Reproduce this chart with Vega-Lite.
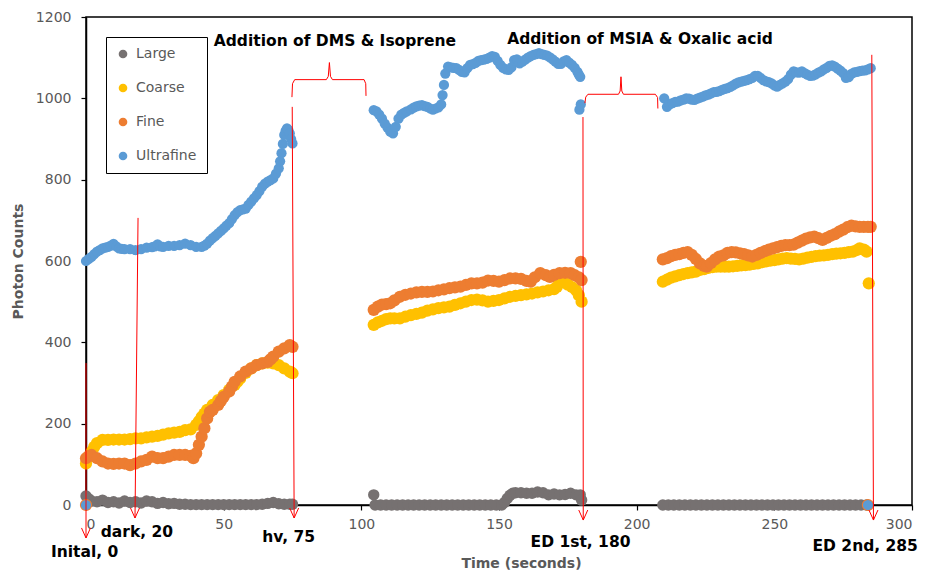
{
  "$schema": "https://vega.github.io/schema/vega-lite/v6.json",
  "width": 826,
  "height": 488,
  "autosize": {"type": "none"},
  "padding": {"left": 86, "top": 17, "right": 17, "bottom": 68},
  "background": "white",
  "config": {
    "view": {"stroke": "black", "strokeWidth": 1.5},
    "font": "DejaVu Sans",
    "axis": {
      "grid": false,
      "domainColor": "black",
      "domainWidth": 1.5,
      "tickColor": "black",
      "tickWidth": 1.2,
      "tickSize": 5,
      "labelFont": "DejaVu Sans",
      "labelFontSize": 14,
      "labelColor": "#595959",
      "titleFont": "DejaVu Sans",
      "titleFontSize": 14,
      "titleColor": "#595959",
      "titleFontWeight": "bold"
    }
  },
  "datasets": {
    "large": [
      {"t":0,"v":22},{"t":1,"v":15},{"t":2,"v":10},{"t":4,"v":8},{"t":6,"v":12},{"t":8,"v":6},{"t":10,"v":8},{"t":12,"v":5},{"t":14,"v":10},{"t":16,"v":6},{"t":18,"v":8},{"t":20,"v":5},{"t":22,"v":10},{"t":24,"v":8},{"t":26,"v":4},{"t":28,"v":6},{"t":30,"v":3},{"t":32,"v":4},{"t":34,"v":2},{"t":36,"v":2},{"t":38,"v":1},{"t":40,"v":1},{"t":42,"v":1},{"t":44,"v":1},{"t":46,"v":1},{"t":48,"v":1},{"t":50,"v":1},{"t":52,"v":1},{"t":54,"v":1},{"t":56,"v":1},{"t":58,"v":1},{"t":60,"v":1},{"t":62,"v":1},{"t":64,"v":2},{"t":66,"v":4},{"t":68,"v":6},{"t":70,"v":3},{"t":72,"v":2},{"t":74,"v":2},{"t":75,"v":2},
      {"t":104.5,"v":25},{"t":105,"v":0},{"t":107,"v":0},{"t":109,"v":0},{"t":111,"v":0},{"t":113,"v":0},{"t":115,"v":0},{"t":117,"v":0},{"t":119,"v":0},{"t":121,"v":0},{"t":123,"v":0},{"t":125,"v":0},{"t":127,"v":0},{"t":129,"v":0},{"t":131,"v":0},{"t":133,"v":0},{"t":135,"v":0},{"t":137,"v":0},{"t":139,"v":0},{"t":141,"v":0},{"t":143,"v":0},{"t":145,"v":0},{"t":147,"v":0},{"t":149,"v":0},{"t":151,"v":0},{"t":152,"v":6},{"t":153,"v":16},{"t":154,"v":24},{"t":155,"v":29},{"t":156,"v":30},{"t":158,"v":30},{"t":160,"v":29},{"t":162,"v":29},{"t":164,"v":32},{"t":166,"v":30},{"t":168,"v":25},{"t":170,"v":27},{"t":172,"v":25},{"t":174,"v":26},{"t":176,"v":29},{"t":178,"v":25},{"t":179.5,"v":25},{"t":180,"v":12},
      {"t":209.5,"v":0},{"t":211.5,"v":0},{"t":213.5,"v":0},{"t":215.5,"v":0},{"t":217.5,"v":0},{"t":219.5,"v":0},{"t":221.5,"v":0},{"t":223.5,"v":0},{"t":225.5,"v":0},{"t":227.5,"v":0},{"t":229.5,"v":0},{"t":231.5,"v":0},{"t":233.5,"v":0},{"t":235.5,"v":0},{"t":237.5,"v":0},{"t":239.5,"v":0},{"t":241.5,"v":0},{"t":243.5,"v":0},{"t":245.5,"v":0},{"t":247.5,"v":0},{"t":249.5,"v":0},{"t":251.5,"v":0},{"t":253.5,"v":0},{"t":255.5,"v":0},{"t":257.5,"v":0},{"t":259.5,"v":0},{"t":261.5,"v":0},{"t":263.5,"v":0},{"t":265.5,"v":0},{"t":267.5,"v":0},{"t":269.5,"v":0},{"t":271.5,"v":0},{"t":273.5,"v":0},{"t":275.5,"v":0},{"t":277.5,"v":0},{"t":279.5,"v":0},{"t":281.5,"v":0},{"t":283.5,"v":0}
    ],
    "coarse": [
      {"t":0,"v":102},{"t":1,"v":118},{"t":2,"v":131},{"t":3,"v":143},{"t":4,"v":152},{"t":6,"v":160},{"t":8,"v":160},{"t":10,"v":161},{"t":12,"v":161},{"t":14,"v":161},{"t":16,"v":162},{"t":18,"v":164},{"t":20,"v":164},{"t":22,"v":166},{"t":24,"v":168},{"t":26,"v":170},{"t":28,"v":173},{"t":30,"v":176},{"t":32,"v":178},{"t":34,"v":180},{"t":36,"v":184},{"t":38,"v":186},{"t":40,"v":197},{"t":41,"v":206},{"t":42,"v":216},{"t":43,"v":225},{"t":44,"v":234},{"t":46,"v":246},{"t":48,"v":258},{"t":50,"v":270},{"t":52,"v":283},{"t":54,"v":295},{"t":55,"v":303},{"t":56,"v":311},{"t":58,"v":325},{"t":60,"v":336},{"t":62,"v":344},{"t":64,"v":348},{"t":66,"v":350},{"t":68,"v":348},{"t":70,"v":344},{"t":72,"v":336},{"t":74,"v":328},{"t":75,"v":324},
      {"t":104.5,"v":443},{"t":106,"v":449},{"t":107.5,"v":453},{"t":109,"v":457},{"t":110.5,"v":459},{"t":112,"v":459},{"t":114,"v":459},{"t":116,"v":463},{"t":118,"v":467},{"t":120,"v":470},{"t":122,"v":473},{"t":124,"v":478},{"t":126,"v":481},{"t":128,"v":484},{"t":130,"v":486},{"t":132,"v":488},{"t":134,"v":492},{"t":136,"v":496},{"t":138,"v":500},{"t":140,"v":504},{"t":142,"v":505},{"t":144,"v":503},{"t":146,"v":500},{"t":148,"v":502},{"t":150,"v":504},{"t":152,"v":508},{"t":154,"v":512},{"t":156,"v":514},{"t":158,"v":516},{"t":160,"v":518},{"t":162,"v":520},{"t":164,"v":523},{"t":166,"v":525},{"t":168,"v":528},{"t":170,"v":531},{"t":171,"v":536},{"t":172,"v":549},{"t":173.5,"v":548},{"t":175,"v":542},{"t":176.5,"v":536},{"t":178,"v":528},{"t":179,"v":516},{"t":180,"v":500},
      {"t":209.5,"v":549},{"t":211,"v":554},{"t":212.5,"v":559},{"t":214,"v":562},{"t":215.5,"v":565},{"t":217,"v":568},{"t":218.5,"v":570},{"t":220,"v":572},{"t":221.5,"v":574},{"t":223,"v":578},{"t":224.5,"v":580},{"t":226,"v":583},{"t":227.5,"v":585},{"t":229,"v":586},{"t":230.5,"v":586},{"t":232,"v":586},{"t":233.5,"v":586},{"t":235,"v":587},{"t":236.5,"v":588},{"t":238,"v":589},{"t":239.5,"v":590},{"t":241,"v":591},{"t":242.5,"v":593},{"t":244,"v":594},{"t":245.5,"v":597},{"t":247,"v":599},{"t":248.5,"v":601},{"t":250,"v":602},{"t":251.5,"v":604},{"t":253,"v":606},{"t":254.5,"v":607},{"t":256,"v":606},{"t":257.5,"v":605},{"t":259,"v":604},{"t":260.5,"v":606},{"t":262,"v":608},{"t":263.5,"v":610},{"t":265,"v":612},{"t":266.5,"v":613},{"t":268,"v":614},{"t":269.5,"v":615},{"t":271,"v":617},{"t":272.5,"v":618},{"t":274,"v":619},{"t":275.5,"v":620},{"t":277,"v":622},{"t":278.5,"v":623},{"t":280,"v":627},{"t":281,"v":631},{"t":282.5,"v":628},{"t":283.5,"v":623},{"t":284.3,"v":545}
    ],
    "fine": [
      {"t":0,"v":0},
      {"t":0,"v":115},{"t":1,"v":120},{"t":2,"v":123},{"t":4,"v":115},{"t":6,"v":107},{"t":8,"v":102},{"t":10,"v":101},{"t":12,"v":102},{"t":14,"v":102},{"t":16,"v":98},{"t":18,"v":102},{"t":20,"v":107},{"t":22,"v":111},{"t":24,"v":119},{"t":26,"v":115},{"t":28,"v":115},{"t":30,"v":119},{"t":32,"v":123},{"t":34,"v":123},{"t":36,"v":123},{"t":38,"v":121},{"t":39,"v":115},{"t":40,"v":127},{"t":41,"v":148},{"t":42,"v":168},{"t":43,"v":189},{"t":44,"v":213},{"t":45,"v":229},{"t":46,"v":234},{"t":48,"v":246},{"t":49,"v":256},{"t":50,"v":266},{"t":52,"v":279},{"t":53,"v":291},{"t":54,"v":303},{"t":56,"v":316},{"t":58,"v":328},{"t":60,"v":336},{"t":62,"v":344},{"t":64,"v":348},{"t":66,"v":352},{"t":67,"v":358},{"t":68,"v":365},{"t":70,"v":377},{"t":72,"v":385},{"t":74,"v":393},{"t":75,"v":389},
      {"t":104.5,"v":480},{"t":106,"v":488},{"t":107.5,"v":493},{"t":109,"v":494},{"t":110.5,"v":496},{"t":112,"v":503},{"t":114,"v":512},{"t":116,"v":517},{"t":118,"v":520},{"t":120,"v":523},{"t":122,"v":524},{"t":124,"v":524},{"t":126,"v":525},{"t":128,"v":528},{"t":130,"v":530},{"t":132,"v":533},{"t":134,"v":535},{"t":136,"v":537},{"t":138,"v":541},{"t":140,"v":545},{"t":142,"v":545},{"t":144,"v":547},{"t":146,"v":552},{"t":148,"v":551},{"t":150,"v":549},{"t":152,"v":553},{"t":154,"v":557},{"t":156,"v":557},{"t":158,"v":556},{"t":160,"v":551},{"t":161.5,"v":549},{"t":163,"v":560},{"t":165,"v":570},{"t":167,"v":565},{"t":168.5,"v":561},{"t":170,"v":566},{"t":172,"v":570},{"t":174,"v":571},{"t":176,"v":570},{"t":177.5,"v":565},{"t":179,"v":560},{"t":180,"v":553},{"t":179.7,"v":598},
      {"t":209.5,"v":604},{"t":211,"v":607},{"t":212.5,"v":612},{"t":214,"v":615},{"t":215.5,"v":617},{"t":217,"v":620},{"t":218.5,"v":622},{"t":220,"v":615},{"t":221.5,"v":605},{"t":223,"v":594},{"t":224.5,"v":588},{"t":225.5,"v":586},{"t":227,"v":595},{"t":228.5,"v":604},{"t":230,"v":611},{"t":231.5,"v":614},{"t":233,"v":620},{"t":234.5,"v":622},{"t":236,"v":621},{"t":237.5,"v":619},{"t":239,"v":617},{"t":240.5,"v":614},{"t":242,"v":611},{"t":243.5,"v":615},{"t":245,"v":620},{"t":246.5,"v":624},{"t":248,"v":628},{"t":249.5,"v":631},{"t":251,"v":634},{"t":252.5,"v":637},{"t":254,"v":639},{"t":255.5,"v":639},{"t":257,"v":640},{"t":258.5,"v":645},{"t":260,"v":650},{"t":261.5,"v":655},{"t":263,"v":658},{"t":264.5,"v":660},{"t":266,"v":656},{"t":267.5,"v":652},{"t":269,"v":657},{"t":270.5,"v":662},{"t":272,"v":666},{"t":273.5,"v":672},{"t":275,"v":677},{"t":276.5,"v":683},{"t":278,"v":687},{"t":279.5,"v":685},{"t":281,"v":684},{"t":282.5,"v":684},{"t":284,"v":684},{"t":285,"v":684},
      {"t":284,"v":0}
    ],
    "ultra": [
      {"t":0,"v":600},{"t":1,"v":605},{"t":2,"v":610},{"t":3,"v":617},{"t":4,"v":623},{"t":5,"v":627},{"t":6,"v":631},{"t":7,"v":633},{"t":8,"v":635},{"t":9,"v":638},{"t":10,"v":642},{"t":11,"v":636},{"t":12,"v":631},{"t":13,"v":630},{"t":14,"v":629},{"t":16,"v":629},{"t":18,"v":627},{"t":20,"v":629},{"t":22,"v":633},{"t":24,"v":634},{"t":25,"v":636},{"t":26,"v":641},{"t":27,"v":636},{"t":28,"v":635},{"t":30,"v":637},{"t":32,"v":637},{"t":34,"v":639},{"t":36,"v":643},{"t":38,"v":639},{"t":40,"v":635},{"t":42,"v":635},{"t":43,"v":638},{"t":44,"v":643},{"t":45,"v":650},{"t":46,"v":656},{"t":47,"v":662},{"t":48,"v":668},{"t":49,"v":674},{"t":50,"v":680},{"t":51,"v":687},{"t":52,"v":693},{"t":53,"v":703},{"t":54,"v":713},{"t":55,"v":720},{"t":56,"v":725},{"t":57,"v":727},{"t":58,"v":729},{"t":59,"v":738},{"t":60,"v":746},{"t":61,"v":754},{"t":62,"v":762},{"t":63,"v":772},{"t":64,"v":783},{"t":65,"v":790},{"t":66,"v":795},{"t":67,"v":799},{"t":68,"v":803},{"t":69,"v":815},{"t":70,"v":828},{"t":70.5,"v":845},{"t":71,"v":865},{"t":71.5,"v":888},{"t":72,"v":910},{"t":72.5,"v":920},{"t":73,"v":926},{"t":73.5,"v":922},{"t":74,"v":914},{"t":74.5,"v":900},{"t":75,"v":889},
      {"t":104.5,"v":971},{"t":105.5,"v":968},{"t":106.5,"v":960},{"t":107.5,"v":950},{"t":108.5,"v":938},{"t":109.5,"v":928},{"t":110.5,"v":918},{"t":111.5,"v":914},{"t":112.5,"v":930},{"t":113.5,"v":950},{"t":114.5,"v":960},{"t":115.5,"v":964},{"t":116.5,"v":968},{"t":118,"v":973},{"t":119,"v":977},{"t":120,"v":980},{"t":121,"v":982},{"t":122,"v":983},{"t":123,"v":981},{"t":124,"v":979},{"t":125,"v":975},{"t":126,"v":972},{"t":127,"v":975},{"t":128,"v":978},{"t":129,"v":985},{"t":129.5,"v":1008},{"t":130,"v":1033},{"t":130.5,"v":1061},{"t":131.5,"v":1078},{"t":132.5,"v":1076},{"t":133.5,"v":1075},{"t":134.5,"v":1074},{"t":135.5,"v":1070},{"t":136.5,"v":1065},{"t":137.5,"v":1064},{"t":138.5,"v":1074},{"t":139.5,"v":1082},{"t":140.5,"v":1084},{"t":141.5,"v":1087},{"t":142.5,"v":1092},{"t":143.5,"v":1094},{"t":144.5,"v":1095},{"t":145.5,"v":1097},{"t":146.5,"v":1100},{"t":147.5,"v":1104},{"t":148.5,"v":1102},{"t":149.5,"v":1092},{"t":150.5,"v":1082},{"t":151.5,"v":1075},{"t":152.5,"v":1071},{"t":153.5,"v":1070},{"t":154.5,"v":1076},{"t":155.5,"v":1094},{"t":156.5,"v":1096},{"t":157.5,"v":1086},{"t":158.5,"v":1090},{"t":159.5,"v":1095},{"t":160.5,"v":1100},{"t":161.5,"v":1104},{"t":162.5,"v":1107},{"t":163.5,"v":1109},{"t":164.5,"v":1111},{"t":165.5,"v":1109},{"t":166.5,"v":1107},{"t":167.5,"v":1105},{"t":168.5,"v":1101},{"t":169.5,"v":1096},{"t":170.5,"v":1090},{"t":171.5,"v":1085},{"t":172.5,"v":1085},{"t":173.5,"v":1091},{"t":174.5,"v":1094},{"t":175.5,"v":1088},{"t":176.5,"v":1082},{"t":177.5,"v":1075},{"t":178.5,"v":1065},{"t":179,"v":1058},{"t":179.5,"v":1053},{"t":179.2,"v":972},{"t":179.7,"v":985},
      {"t":210,"v":1000},{"t":211,"v":979},{"t":212,"v":985},{"t":213,"v":988},{"t":214,"v":991},{"t":215,"v":992},{"t":216,"v":995},{"t":217,"v":997},{"t":218,"v":1000},{"t":219,"v":999},{"t":220,"v":997},{"t":221,"v":996},{"t":222,"v":999},{"t":223,"v":1002},{"t":224,"v":1004},{"t":225,"v":1007},{"t":226,"v":1009},{"t":227,"v":1012},{"t":228,"v":1015},{"t":229,"v":1016},{"t":230,"v":1018},{"t":231,"v":1021},{"t":232,"v":1023},{"t":233,"v":1025},{"t":234,"v":1028},{"t":235,"v":1032},{"t":236,"v":1036},{"t":237,"v":1039},{"t":238,"v":1041},{"t":239,"v":1043},{"t":240,"v":1045},{"t":241,"v":1047},{"t":242,"v":1050},{"t":243,"v":1055},{"t":244,"v":1055},{"t":245,"v":1050},{"t":246,"v":1045},{"t":247,"v":1042},{"t":248,"v":1040},{"t":249,"v":1037},{"t":250,"v":1032},{"t":251,"v":1029},{"t":252,"v":1033},{"t":253,"v":1037},{"t":254,"v":1041},{"t":255,"v":1047},{"t":256,"v":1058},{"t":257,"v":1066},{"t":258,"v":1064},{"t":259,"v":1063},{"t":260,"v":1066},{"t":261,"v":1062},{"t":262,"v":1058},{"t":263,"v":1055},{"t":264,"v":1056},{"t":265,"v":1059},{"t":266,"v":1063},{"t":267,"v":1066},{"t":268,"v":1071},{"t":269,"v":1075},{"t":270,"v":1080},{"t":271,"v":1081},{"t":272,"v":1078},{"t":273,"v":1073},{"t":274,"v":1068},{"t":275,"v":1062},{"t":276,"v":1050},{"t":277,"v":1052},{"t":278,"v":1060},{"t":279,"v":1064},{"t":280,"v":1065},{"t":281,"v":1067},{"t":282,"v":1068},{"t":283,"v":1069},{"t":284,"v":1071},{"t":285,"v":1074},
      {"t":0,"v":0},{"t":284,"v":0}
    ],
    "arrows": [
      {"t":0,"v":349,"t2":0,"v2":-81},
      {"t":18.9,"v":706,"t2":17.8,"v2":-32},
      {"t":74.9,"v":979,"t2":75.6,"v2":-32},
      {"t":180.5,"v":954,"t2":180.6,"v2":-37},
      {"t":285.4,"v":1107,"t2":286,"v2":-37}
    ],
    "braces": [
      {"g":1,"o":1,"t":74.8,"v":1003},{"g":1,"o":2,"t":75.0,"v":1036},{"g":1,"o":3,"t":75.8,"v":1046},{"g":1,"o":4,"t":87.3,"v":1046},{"g":1,"o":5,"t":88.0,"v":1054},{"g":1,"o":6,"t":88.4,"v":1088},{"g":1,"o":7,"t":88.8,"v":1054},{"g":1,"o":8,"t":89.5,"v":1046},{"g":1,"o":9,"t":101.0,"v":1046},{"g":1,"o":10,"t":101.6,"v":1036},{"g":1,"o":11,"t":101.7,"v":1006},
      {"g":2,"o":1,"t":181.2,"v":988},{"g":2,"o":2,"t":181.5,"v":1003},{"g":2,"o":3,"t":182.3,"v":1010},{"g":2,"o":4,"t":193.4,"v":1010},{"g":2,"o":5,"t":194.0,"v":1018},{"g":2,"o":6,"t":194.3,"v":1053},{"g":2,"o":7,"t":194.6,"v":1018},{"g":2,"o":8,"t":195.2,"v":1010},{"g":2,"o":9,"t":206.8,"v":1010},{"g":2,"o":10,"t":207.6,"v":1002},{"g":2,"o":11,"t":207.7,"v":975}
    ],
    "notes": [
      {"t":90.4,"v":1141,"s":"Addition of DMS & Isoprene"},
      {"t":201.2,"v":1145,"s":"Addition of MSIA & Oxalic acid"},
      {"t":-0.5,"v":-116,"s":"Inital, 0"},
      {"t":18.5,"v":-66,"s":"dark, 20"},
      {"t":73.6,"v":-78,"s":"hv, 75"},
      {"t":179.6,"v":-90,"s":"ED 1st, 180"},
      {"t":283,"v":-100,"s":"ED 2nd, 285"}
    ]
  },
  "layer": [
    {
      "data": {"name": "large"},
      "mark": {"type": "point", "filled": true, "opacity": 1, "size": 130},
      "encoding": {
        "x": {"field": "t", "type": "quantitative", "title": "Time (seconds)",
          "scale": {"domain": [0, 300], "nice": false},
          "axis": {"values": [0, 50, 100, 150, 200, 250, 300], "labelPadding": 7, "titleX": 435, "titleY": 58, "titleBaseline": "middle"}},
        "y": {"field": "v", "type": "quantitative", "title": "Photon Counts",
          "scale": {"domain": [0, 1200], "nice": false},
          "axis": {"values": [0, 200, 400, 600, 800, 1000, 1200], "format": "d", "labelPadding": 10, "titleX": -68, "titleBaseline": "middle"}},
        "color": {"datum": "Large", "type": "nominal",
          "scale": {"domain": ["Large", "Coarse", "Fine", "Ultrafine"], "range": ["#767171", "#FFC000", "#ED7D31", "#5B9BD5"]},
          "legend": {"title": null, "orient": "none", "legendX": 20, "legendY": 20, "padding": 10, "strokeColor": "black", "fillColor": "white", "labelFont": "DejaVu Sans", "labelFontSize": 14, "labelColor": "#595959", "symbolSize": 75, "symbolType": "circle", "rowPadding": 20, "labelOffset": 6,
            "encode": {"legend": {"update": {"strokeWidth": {"value": 1.5}}}}}}
      }
    },
    {
      "data": {"name": "coarse"},
      "mark": {"type": "point", "filled": true, "opacity": 1, "size": 150},
      "encoding": {
        "x": {"field": "t", "type": "quantitative", "title": "Time (seconds)"},
        "y": {"field": "v", "type": "quantitative", "title": "Photon Counts"},
        "color": {"datum": "Coarse", "type": "nominal"}
      }
    },
    {
      "data": {"name": "fine"},
      "mark": {"type": "point", "filled": true, "opacity": 1, "size": 150},
      "encoding": {
        "x": {"field": "t", "type": "quantitative", "title": "Time (seconds)"},
        "y": {"field": "v", "type": "quantitative", "title": "Photon Counts"},
        "color": {"datum": "Fine", "type": "nominal"}
      }
    },
    {
      "data": {"name": "ultra"},
      "mark": {"type": "point", "filled": true, "opacity": 1, "size": 105},
      "encoding": {
        "x": {"field": "t", "type": "quantitative", "title": "Time (seconds)"},
        "y": {"field": "v", "type": "quantitative", "title": "Photon Counts"},
        "color": {"datum": "Ultrafine", "type": "nominal"}
      }
    },
    {
      "data": {"name": "arrows"},
      "mark": {"type": "rule", "color": "#FF0000", "strokeWidth": 1},
      "encoding": {
        "x": {"field": "t", "type": "quantitative", "title": "Time (seconds)"},
        "y": {"field": "v", "type": "quantitative", "title": "Photon Counts"},
        "x2": {"field": "t2"},
        "y2": {"field": "v2"}
      }
    },
    {
      "data": {"name": "arrows"},
      "mark": {"type": "point", "shape": "M-0.45,-1L0,0L0.45,-1", "filled": false, "stroke": "#FF0000", "strokeWidth": 1, "size": 400, "opacity": 1},
      "encoding": {
        "x": {"field": "t2", "type": "quantitative", "title": "Time (seconds)"},
        "y": {"field": "v2", "type": "quantitative", "title": "Photon Counts"}
      }
    },
    {
      "data": {"name": "braces"},
      "mark": {"type": "line", "color": "#FF0000", "strokeWidth": 1},
      "encoding": {
        "x": {"field": "t", "type": "quantitative", "title": "Time (seconds)"},
        "y": {"field": "v", "type": "quantitative", "title": "Photon Counts"},
        "detail": {"field": "g"},
        "order": {"field": "o"}
      }
    },
    {
      "data": {"name": "notes"},
      "mark": {"type": "text", "font": "DejaVu Sans", "fontWeight": "bold", "fontSize": 15.5, "color": "black", "align": "center", "baseline": "middle"},
      "encoding": {
        "x": {"field": "t", "type": "quantitative", "title": "Time (seconds)"},
        "y": {"field": "v", "type": "quantitative", "title": "Photon Counts"},
        "text": {"field": "s"}
      }
    }
  ]
}
